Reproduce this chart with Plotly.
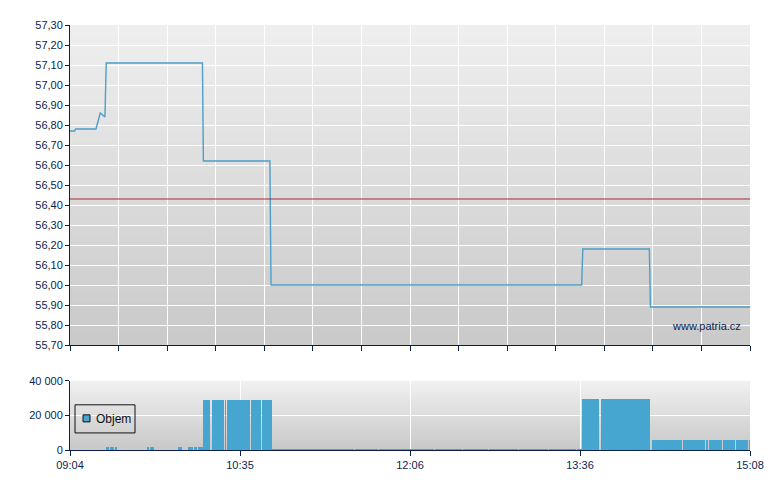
import plotly.graph_objects as go

# ---- data ----
time_labels = ["09:04", "10:35", "12:06", "13:36", "15:08"]
time_label_min = [0, 91, 182, 273, 364]          # minutes since 09:04

price_min = [0, 2.5, 3, 13.9, 16.2, 17.2, 18.7, 19.4, 70.9, 71.4, 107.0, 107.6,
             273.9, 274.5, 310.1, 310.7, 364]
price_val = [56.77, 56.77, 56.78, 56.78, 56.86, 56.85, 56.84, 57.11, 57.11, 56.62,
             56.62, 56.00, 56.00, 56.18, 56.18, 55.89, 55.89]
ref_price = 56.43

vol_start = [19.3, 21.9, 23.0, 24.1, 41.2, 42.8, 58.3, 59.4, 63.2, 64.2, 65.3, 66.4,
             67.5, 68.3,
             71.2, 75.8, 83.0, 83.8, 96.7, 103.1, 104.1,
             108.1, 125.4, 141.0, 152.4, 165.4, 182.2, 195.4, 210.4, 224.4, 240.4, 256.4,
             271.3,
             274.1, 284.0,
             311.5, 328.1, 340.4, 342.3, 349.8, 356.4, 363.6]
vol_end = [20.9, 22.5, 23.6, 25.2, 42.3, 45.0, 58.9, 60.0, 63.7, 64.8, 65.8, 67.4,
           67.9, 71.1,
           75.2, 82.5, 83.3, 96.1, 102.5, 103.5, 108.1,
           125.0, 140.6, 152.0, 165.0, 181.8, 195.0, 210.0, 224.0, 240.0, 256.0, 271.0,
           274.0,
           283.4, 310.5,
           327.5, 339.8, 341.7, 349.2, 355.8, 363.0, 364.0]
vol_val = [1700, 1700, 1700, 1700, 1700, 1700, 1700, 1700, 1700, 1700, 1700, 1700,
           1700, 1700,
           28900, 28900, 28900, 28900, 28900, 28900, 28900,
           600, 600, 600, 600, 600, 600, 600, 600, 600, 600, 600,
           700,
           29400, 29400,
           5770, 5770, 5770, 5770, 5770, 5770, 5770]

# ---- style ----
NAVY = "#0b1f4f"
FONT = "Liberation Sans"
LINE_C = "#4d9fc9"
BAR_C = "#47a6cf"

fig = go.Figure()

fig.add_trace(go.Scatter(x=price_min, y=price_val, mode="lines",
                         line=dict(color=LINE_C, width=1.4),
                         xaxis="x", yaxis="y", showlegend=False, hoverinfo="skip"))

fig.add_trace(go.Bar(x=[(s + e) / 2 for s, e in zip(vol_start, vol_end)],
                     y=vol_val,
                     width=[e - s for s, e in zip(vol_start, vol_end)],
                     marker=dict(color=BAR_C, line=dict(width=0)),
                     xaxis="x2", yaxis="y2", showlegend=False, name="Objem"))

# gradient backgrounds
shapes = []
N = 30
def grad(dom, top_c, bot_c):
    for i in range(N):
        c = [int(round(top_c[k] + (bot_c[k] - top_c[k]) * (i + 0.5) / N)) for k in range(3)]
        y1 = 1 - i / N
        y0 = max(0, 1 - (i + 1.6) / N)
        shapes.append(dict(type="rect", xref=dom[0], yref=dom[1],
                           x0=0, x1=1, y0=y0, y1=y1,
                           fillcolor="rgb(%d,%d,%d)" % tuple(c),
                           line=dict(width=0), layer="below"))
grad(("x domain", "y domain"), (239, 239, 239), (201, 201, 201))
grad(("x2 domain", "y2 domain"), (241, 241, 241), (200, 200, 200))

# reference line
shapes.append(dict(type="line", xref="x domain", yref="y", x0=0, x1=1,
                   y0=ref_price, y1=ref_price, line=dict(color="#a52a2a", width=1),
                   layer="above"))

# legend box (drawn)
PW, PH = 680.0, 69.0
shapes.append(dict(type="rect", xref="x2 domain", yref="y2 domain",
                   x0=5 / PW, x1=65 / PW, y0=(450 - 433) / PH, y1=(450 - 405) / PH,
                   line=dict(color="#111111", width=1), fillcolor="rgba(0,0,0,0)",
                   layer="above"))
shapes.append(dict(type="rect", xref="x2 domain", yref="y2 domain",
                   x0=13 / PW, x1=20 / PW, y0=(450 - 422) / PH, y1=(450 - 415) / PH,
                   line=dict(color="#111111", width=1), fillcolor=BAR_C,
                   layer="above"))

fig.update_layout(
    width=780, height=490,
    margin=dict(l=62, r=38, t=17, b=48),
    paper_bgcolor="white", plot_bgcolor="rgba(0,0,0,0)",
    separators=", ",
    font=dict(family=FONT, size=11, color=NAVY),
    shapes=shapes,
    bargap=0,
    showlegend=False,
    xaxis=dict(domain=[0, 1], anchor="y", range=[0, 364],
               tickmode="array", tickvals=[26 * i for i in range(15)],
               showticklabels=False, ticks="outside", ticklen=5, tickcolor=NAVY,
               showgrid=True, gridcolor="white", gridwidth=1,
               showline=True, linecolor=NAVY, linewidth=1, zeroline=False),
    yaxis=dict(domain=[0.247, 1], anchor="x", range=[55.70, 57.30],
               tickmode="array", tickvals=[round(55.70 + 0.1 * i, 2) for i in range(17)],
               tickformat=".2f", ticks="outside", ticklen=4, tickcolor=NAVY,
               showgrid=True, gridcolor="white", gridwidth=1,
               showline=True, linecolor=NAVY, linewidth=1, zeroline=False),
    xaxis2=dict(domain=[0, 1], anchor="y2", range=[0, 364],
                tickmode="array", tickvals=time_label_min, ticktext=time_labels,
                ticks="outside", ticklen=5, tickcolor=NAVY,
                showgrid=True, gridcolor="white", gridwidth=1,
                showline=True, linecolor=NAVY, linewidth=1, zeroline=False),
    yaxis2=dict(domain=[0, 0.163], anchor="x2", range=[0, 40000],
                tickmode="array", tickvals=[0, 20000, 40000],
                tickformat=",d", ticks="outside", ticklen=4, tickcolor=NAVY,
                showgrid=True, gridcolor="white", gridwidth=1,
                showline=True, linecolor=NAVY, linewidth=1, zeroline=False),
    annotations=[
        dict(text="www.patria.cz", xref="x domain", yref="y domain",
             x=0.99, y=0.06, xanchor="right", yanchor="middle",
             showarrow=False, font=dict(family=FONT, size=11, color=NAVY)),
        dict(text="Objem", xref="x2 domain", yref="y2 domain",
             x=24 / PW, y=(450 - 419) / PH, xanchor="left", yanchor="middle",
             showarrow=False, font=dict(family=FONT, size=12, color="#111111")),
    ],
)

fig.write_html("out.html")
